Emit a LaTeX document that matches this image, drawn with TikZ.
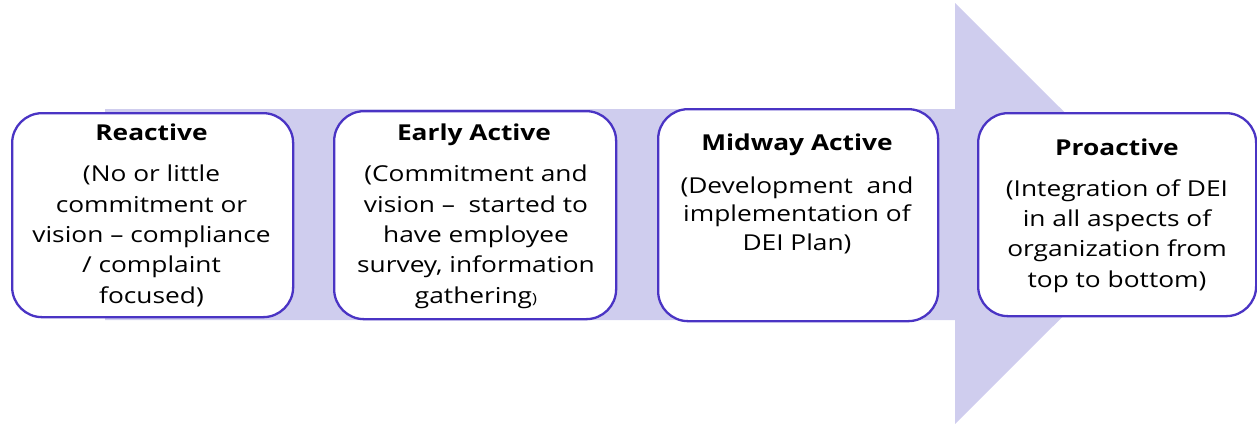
\documentclass[tikz,border=0pt]{standalone}
\usepackage{fontspec}
\setmainfont{Open Sans}[FakeStretch=1.2]
\definecolor{arrowfill}{HTML}{CFCDEE}
\definecolor{boxline}{HTML}{4A34C4}
\begin{document}
\begin{tikzpicture}[x=1bp,y=-1bp,
  stage/.style={draw=boxline, line width=2.3bp, fill=white, rounded corners=30bp,
    anchor=north west, inner sep=0pt},
  stagetitle/.style={anchor=base, inner sep=0pt, font=\fontsize{22}{30}\selectfont\bfseries},
  stagetext/.style={anchor=base, inner sep=0pt, align=center, font=\fontsize{22}{#1}\selectfont},
  stagetext/.default=30.3bp]
\useasboundingbox (0,0) rectangle (1257,423);

% broad progress arrow behind the stages
\begin{scope}
  \clip (0,0) rectangle (1257,423);
  \fill[arrowfill] (105,109) -- (955,109) -- (955,3) -- (1166,213.5)
    -- (955,424) -- (955,320) -- (105,320) -- cycle;
\end{scope}

% stage boxes
\node[stage, minimum width=281bp, minimum height=204bp] (reactive) at (11,112) {};
\node[stage, minimum width=282bp, minimum height=208bp] (early) at (333,110) {};
\node[stage, minimum width=280bp, minimum height=212bp] (midway) at (657,108) {};
\node[stage, minimum width=278bp, minimum height=203bp] (proactive) at (977,112) {};

% stage titles
\node[stagetitle] (reactive-title) at (151.5,140) {Reactive};
\node[stagetitle] (early-title) at (474,140) {Early Active};
\node[stagetitle] (midway-title) at (797,150) {Midway Active};
\node[stagetitle] (proactive-title) at (1117,155) {Proactive};

% stage descriptions (anchored on the baseline of their last line)
\node[stagetext] (reactive-text) at (151.5,303)
  {(No or little\\commitment or\\vision – compliance\\/ complaint\\focused)};
\node[stagetext] (early-text) at (476,303)
  {(Commitment and\\vision –\ \ started to\\have employee\\survey, information\\gathering{\fontsize{14}{14}\selectfont)}};
\node[stagetext=28.5bp] (midway-text) at (797,250)
  {(Development\ \ and\\implementation of\\DEI Plan)};
\node[stagetext] (proactive-text) at (1117,287)
  {(Integration of DEI\\in all aspects of\\organization from\\top to bottom)};
\end{tikzpicture}
\end{document}
